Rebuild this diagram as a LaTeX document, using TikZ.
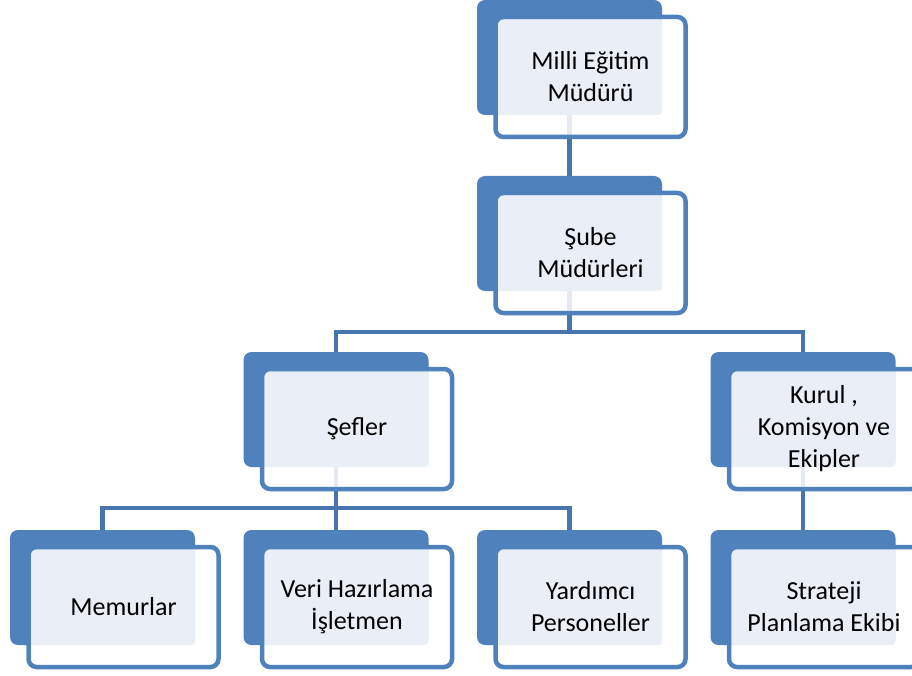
\documentclass[tikz,border=0pt]{standalone}
\usepackage{fontspec}
\setmainfont{Carlito}
\usepackage{tikz}
\usetikzlibrary{backgrounds}
\definecolor{boxblue}{RGB}{79,129,189}
\definecolor{linkblue}{RGB}{72,118,172}
\definecolor{lightfill}{RGB}{234,239,247}
\tikzstyle{back} = [draw=none, rectangle, rounded corners=8pt, fill=boxblue, minimum width=185pt, minimum height=115pt]
\tikzstyle{front} = [draw=boxblue, rectangle, line width=4.5pt, rounded corners=8pt, fill=white, fill opacity=0.85, text opacity=1, minimum width=190pt, minimum height=120pt, align=center, font=\fontsize{26}{32}\selectfont, xshift=21pt, yshift=-19.5pt, path picture={\fill[lightfill, fill opacity=1, rounded corners=4pt] ([shift={(2.25pt,-3.5pt)}]path picture bounding box.north west) rectangle ([shift={(-23.5pt,22pt)}]path picture bounding box.south east);}]
\tikzstyle{link} = [draw=linkblue, line width=4.5pt]

\begin{document}
\begin{tikzpicture}[x=1pt, y=1pt, node distance=176pt]
    \useasboundingbox (0,0) rectangle (912,-676);
            % Back boxes
                  \node (MudurBack) [back] at (569.5,-57.5) {};
                  \node (SubeBack) [back, below of=MudurBack] {};
                  \node (SeflerBack) [back, below of=SubeBack, xshift=-233.5pt] {};
                  \node (KurulBack) [back, below of=SubeBack, xshift=233.5pt] {};
                  \node (MemurBack) [back, below of=SeflerBack, xshift=-233.5pt, yshift=-2pt] {};
                  \node (VeriBack) [back, below of=SeflerBack, yshift=-2pt] {};
                  \node (YardimciBack) [back, below of=SeflerBack, xshift=233.5pt, yshift=-2pt] {};
                  \node (StratejiBack) [back, below of=KurulBack, yshift=-2pt] {};

                  % Front boxes with the titles
                  \node (Mudur) [front] at (MudurBack) {Milli Eğitim\\Müdürü};
                  \node (Sube) [front] at (SubeBack) {Şube\\Müdürleri};
                  \node (Sefler) [front] at (SeflerBack) {Şefler};
                  \node (Kurul) [front] at (KurulBack) {Kurul ,\\Komisyon ve\\Ekipler};
                  \node (Memur) [front] at (MemurBack) {Memurlar};
                  \node (Veri) [front] at (VeriBack) {Veri Hazırlama\\İşletmen};
                  \node (Yardimci) [front] at (YardimciBack) {Yardımcı\\Personeller};
                  \node (Strateji) [front] at (StratejiBack) {Strateji\\Planlama Ekibi};

            % Connectors
            \begin{scope}[on background layer]
            \draw [link] (MudurBack.south) -- (SubeBack.north);
            \draw [link] (SubeBack.south) -- ++(0,-41) -| (SeflerBack.north);
            \draw [link] (SubeBack.south) -- ++(0,-41) -| (KurulBack.north);
            \draw [link] (SeflerBack.south) -- ++(0,-41) -| (MemurBack.north);
            \draw [link] (SeflerBack.south) -- ++(0,-41) -| (VeriBack.north);
            \draw [link] (SeflerBack.south) -- ++(0,-41) -| (YardimciBack.north);
            \draw [link] (KurulBack.south) -- (StratejiBack.north);
            \end{scope}
        \end{tikzpicture}
\end{document}
